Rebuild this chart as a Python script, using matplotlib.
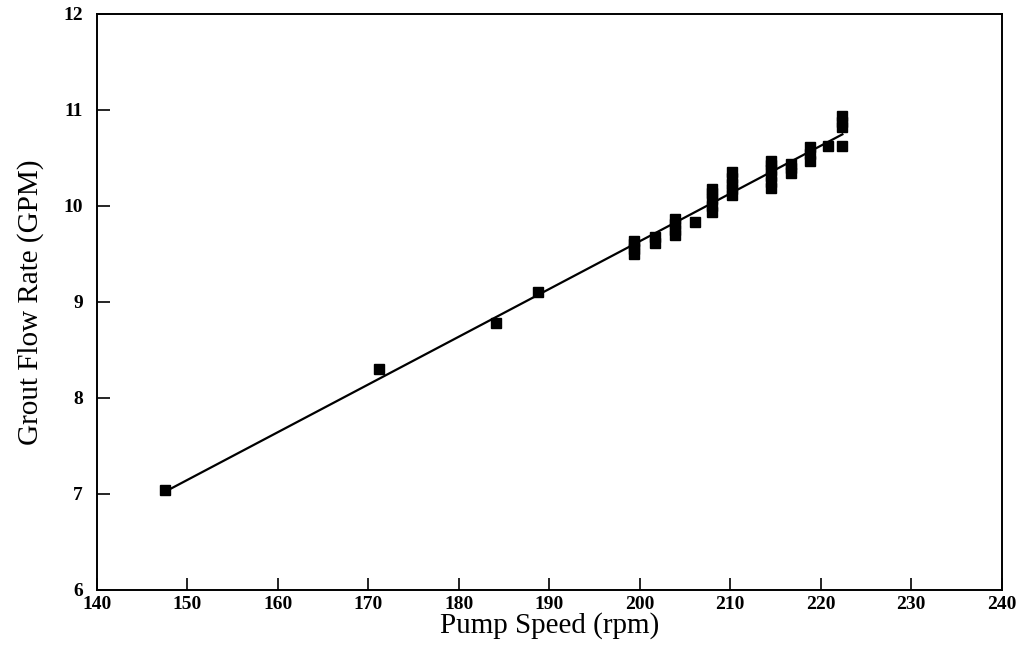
"""
Vazão de graute versus velocidade da bomba, com reta de regressão
"""

import numpy as np
import matplotlib
matplotlib.use("Agg")
import matplotlib.pyplot as plt

######################################################################

# Pontos (rpm, GPM)
velocidade = [147.5, 171.2, 184.1, 188.7,
              199.4, 199.4, 199.4, 199.4,
              201.7, 201.7,
              203.9, 203.9, 203.9, 203.9,
              206.1,
              208.0, 208.0, 208.0, 208.0, 208.0,
              210.2, 210.2, 210.2, 210.2, 210.2,
              214.5, 214.5, 214.5, 214.5, 214.5, 214.5,
              216.7, 216.7, 216.7,
              218.8, 218.8, 218.8,
              220.8,
              222.4, 222.4, 222.4, 222.4]
vazao = [7.04, 8.30, 8.78, 9.10,
         9.50, 9.55, 9.60, 9.63,
         9.61, 9.67,
         9.70, 9.75, 9.81, 9.86,
         9.83,
         9.94, 10.00, 10.07, 10.13, 10.18,
         10.11, 10.17, 10.23, 10.29, 10.35,
         10.19, 10.25, 10.31, 10.37, 10.42, 10.47,
         10.34, 10.39, 10.44,
         10.47, 10.54, 10.61,
         10.62,
         10.62, 10.82, 10.87, 10.93]

ticks_x = list(range(140, 241, 10))
ticks_y = list(range(6, 13))

fonte = "Liberation Serif"

# Reta ajustada aos dados
coef = np.polyfit(velocidade, vazao, 1)
x_reta = np.array([min(velocidade), max(velocidade)])
y_reta = np.polyval(coef, x_reta)

fig = plt.figure(figsize=(10.21, 6.53), dpi=100)
ax = fig.add_axes([0.095, 0.0965, 0.886, 0.8825])

ax.plot(velocidade, vazao, "s", color="black", markersize=6.5, zorder=3)
ax.plot(x_reta, y_reta, "-", color="black", linewidth=1.6, zorder=2)

ax.set_xlim(140, 240)
ax.set_ylim(6, 12)
ax.set_xticks(ticks_x)
ax.set_yticks(ticks_y)
ax.tick_params(direction="in", length=9, width=1.2, top=False, right=False,
               labelsize=14)
for rotulo in ax.get_xticklabels() + ax.get_yticklabels():
    rotulo.set_fontfamily(fonte)
    rotulo.set_fontweight("bold")
ax.tick_params(axis="x", pad=4)
ax.tick_params(axis="y", pad=10)

for lado in ax.spines.values():
    lado.set_linewidth(1.4)

ax.set_xlabel("Pump Speed (rpm)", fontfamily=fonte, fontsize=21, labelpad=0)
ax.set_ylabel("Grout Flow Rate (GPM)", fontfamily=fonte, fontsize=21, labelpad=14)

fig.savefig("out.png", dpi=100, facecolor="white")
